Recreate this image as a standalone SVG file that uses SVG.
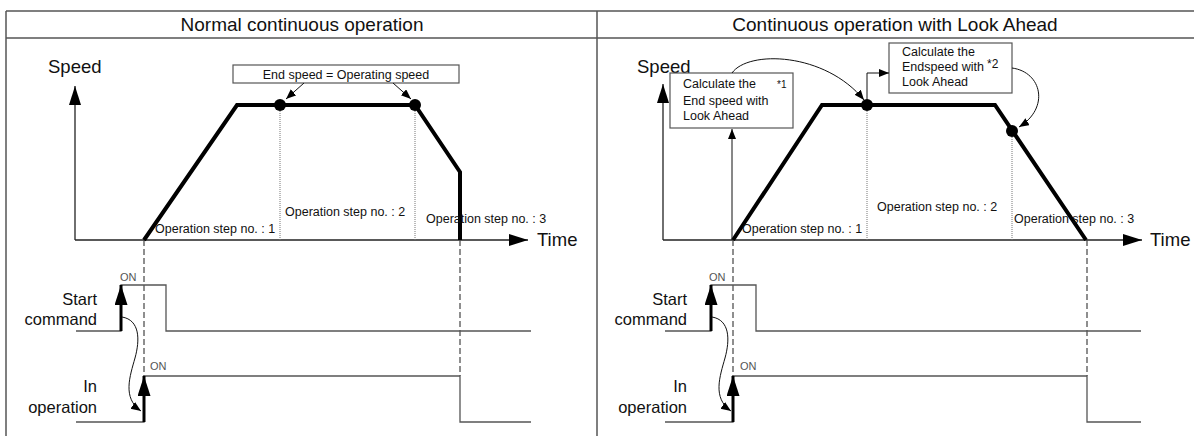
<svg xmlns="http://www.w3.org/2000/svg" width="1194" height="436" viewBox="0 0 1194 436">
<style>
text{font-family:"Liberation Sans",Arial,sans-serif;fill:#111}
.title{font-size:19px;text-anchor:middle}
.big{font-size:18.5px}
.sig{font-size:16.5px;text-anchor:end}
.sm{font-size:12.5px}
.on{font-size:11px;fill:#555}
.frame{stroke:#555;stroke-width:1.5;fill:none}
.axis{stroke:#222;stroke-width:1.3;fill:none}
.prof{stroke:#000;stroke-width:4;fill:none;stroke-linejoin:miter}
.wave{stroke:#555;stroke-width:1.3;fill:none}
.dash{stroke:#444;stroke-width:1.2;stroke-dasharray:6 3;fill:none}
.dot{stroke:#777;stroke-width:1;stroke-dasharray:1 1;fill:none}
.box{stroke:#555;stroke-width:1.2;fill:#fff}
.thin{stroke:#111;stroke-width:1;fill:none}
.thick{stroke:#000;stroke-width:3;fill:none}
</style>
<defs>
<marker id="mBig" markerUnits="userSpaceOnUse" markerWidth="20" markerHeight="14" refX="19" refY="6" orient="auto"><path d="M0,0 L19,6 L0,12 z" fill="#000"/></marker>
<marker id="mSig" markerUnits="userSpaceOnUse" markerWidth="22" markerHeight="14" refX="20" refY="6.5" orient="auto"><path d="M0,0 L20,6.5 L0,13 z" fill="#000"/></marker>
<marker id="mSm" markerUnits="userSpaceOnUse" markerWidth="12" markerHeight="10" refX="10" refY="4" orient="auto"><path d="M0,0 L10,4 L0,8 z" fill="#000"/></marker>
</defs>

<g id="frame">
<line class="frame" x1="6" y1="11" x2="1194" y2="11"/>
<line class="frame" x1="6" y1="38" x2="1194" y2="38"/>
<line class="frame" x1="6" y1="11" x2="6" y2="436"/>
<line class="frame" x1="597" y1="11" x2="597" y2="436"/>
</g>
<g id="title-left"><text class="title" x="302" y="31">Normal continuous operation</text></g>
<g id="title-right"><text class="title" x="895" y="31">Continuous operation with Look Ahead</text></g>

<!-- LEFT PANEL -->
<g id="left-axes">
<text class="big" x="48" y="73">Speed</text>
<line class="axis" x1="75" y1="240" x2="75" y2="86" marker-end="url(#mBig)"/>
<line class="axis" x1="75" y1="240" x2="528" y2="240" marker-end="url(#mBig)"/>
<text class="big" x="537" y="246">Time</text>
</g>
<g id="left-guides">
<line class="dot" x1="280" y1="105" x2="280" y2="240"/>
<line class="dot" x1="415" y1="105" x2="415" y2="240"/>
<line class="dash" x1="144" y1="240" x2="144" y2="376"/>
<line class="dash" x1="460" y1="240" x2="460" y2="376"/>
</g>
<g id="left-profile">
<polyline class="prof" points="144,240 237,105 415,105 460,172 460,240"/>
<circle cx="280" cy="105" r="6" fill="#000"/>
<circle cx="415" cy="105" r="6" fill="#000"/>
</g>
<g id="left-box-end-speed">
<rect class="box" x="233" y="65" width="226" height="18"/>
<text class="sm" x="346" y="78.5" text-anchor="middle">End speed = Operating speed</text>
</g>
<g id="left-steps">
<text class="sm" x="155" y="233">Operation step no. : 1</text>
<text class="sm" x="285" y="216">Operation step no. : 2</text>
<text class="sm" x="426" y="223">Operation step no. : 3</text>
</g>
<g id="left-start">
<text class="sig" x="97" y="305">Start</text>
<text class="sig" x="97" y="325">command</text>
<text class="on" x="120" y="281">ON</text>
<polyline class="wave" points="76,331 121,331 121,285 166,285 166,331 531,331"/>
</g>
<g id="left-inop">
<text class="sig" x="97" y="392">In</text>
<text class="sig" x="97" y="413">operation</text>
<text class="on" x="150" y="370">ON</text>
<polyline class="wave" points="76,422 144,422 144,376 460,376 460,422 531,422"/>
</g>

<!-- RIGHT PANEL -->
<g id="right-axes">
<text class="big" x="637" y="73">Speed</text>
<line class="axis" x1="663" y1="240" x2="663" y2="84" marker-end="url(#mBig)"/>
<line class="axis" x1="663" y1="240" x2="1142" y2="240" marker-end="url(#mBig)"/>
<text class="big" x="1150" y="246">Time</text>
</g>
<g id="right-guides">
<line class="dot" x1="867" y1="105" x2="867" y2="240"/>
<line class="dot" x1="1012" y1="131" x2="1012" y2="240"/>
<line class="dash" x1="733" y1="240" x2="733" y2="376"/>
<line class="dash" x1="1087" y1="240" x2="1087" y2="376"/>
</g>
<g id="right-profile">
<polyline class="prof" points="733,240 822,105 995,105 1086,240"/>
<circle cx="867" cy="105" r="6" fill="#000"/>
<circle cx="1012" cy="131" r="6" fill="#000"/>
</g>
<g id="right-box-look1">
<rect class="box" x="670" y="73" width="123" height="55"/>
<text class="sm" x="683" y="88">Calculate the</text>
<text class="sm" x="683" y="104.5">End speed with</text>
<text class="sm" x="683" y="120">Look Ahead</text>
<text x="777" y="88" style="font-size:10px">*1</text>
</g>
<g id="right-box-look2">
<rect class="box" x="889" y="43" width="123" height="50"/>
<text class="sm" x="902" y="56">Calculate the</text>
<text class="sm" x="902" y="71">Endspeed with</text>
<text x="987" y="68" style="font-size:12px">*2</text>
<text class="sm" x="902" y="86">Look Ahead</text>
</g>
<g id="right-steps">
<text class="sm" x="742" y="233">Operation step no. : 1</text>
<text class="sm" x="877" y="211">Operation step no. : 2</text>
<text class="sm" x="1014" y="223">Operation step no. : 3</text>
</g>
<g id="right-start">
<text class="sig" x="687" y="305">Start</text>
<text class="sig" x="687" y="325">command</text>
<text class="on" x="709" y="281">ON</text>
<polyline class="wave" points="665,331 711,331 711,285 756,285 756,331 1141,331"/>
</g>
<g id="right-inop">
<text class="sig" x="687" y="392">In</text>
<text class="sig" x="687" y="413">operation</text>
<text class="on" x="740" y="370">ON</text>
<polyline class="wave" points="665,422 733,422 733,376 1087,376 1087,422 1141,422"/>
</g>

<g id="connectors">
<!-- left -->
<line class="thin" x1="304" y1="83" x2="286" y2="99" marker-end="url(#mSm)"/>
<line class="thin" x1="393" y1="83" x2="411" y2="99" marker-end="url(#mSm)"/>
<line class="thick" x1="121" y1="331" x2="121" y2="285" marker-end="url(#mSig)"/>
<line class="thick" x1="144" y1="422" x2="144" y2="376" marker-end="url(#mSig)"/>
<path class="thin" d="M122,317 C140,320 140,340 135,358 C130,376 122,398 141,411" marker-end="url(#mSm)"/>
<!-- right -->
<line class="thin" x1="732" y1="240" x2="732" y2="129" marker-end="url(#mSm)"/>
<path class="thin" d="M732,73 C748,50 825,52 864,100" marker-end="url(#mSm)"/>
<polyline class="thin" points="867,100 867,73 889,73" marker-end="url(#mSm)"/>
<path class="thin" d="M1012,68 C1042,72 1050,108 1019,127" marker-end="url(#mSm)"/>
<line class="thick" x1="711" y1="331" x2="711" y2="285" marker-end="url(#mSig)"/>
<line class="thick" x1="733" y1="422" x2="733" y2="376" marker-end="url(#mSig)"/>
<path class="thin" d="M712,317 C730,320 730,340 725,358 C720,376 712,398 731,411" marker-end="url(#mSm)"/>
</g>
</svg>
